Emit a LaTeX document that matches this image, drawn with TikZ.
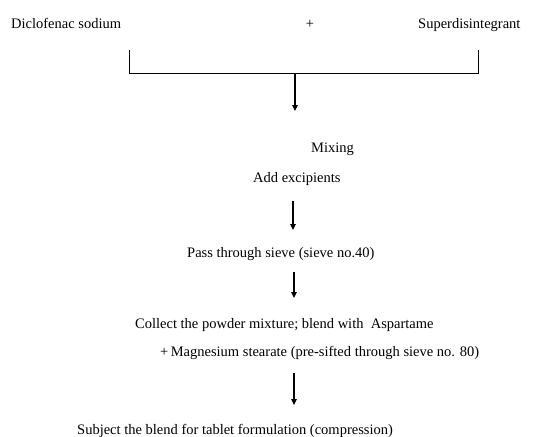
\documentclass[tikz,border=0pt]{standalone}
\usepackage{fontspec}
\setmainfont{Liberation Serif}
\usetikzlibrary{arrows.meta}
\begin{document}
\begin{tikzpicture}[x=1pt,y=-1pt,
  lbl/.style={inner sep=0pt,anchor=base west,font=\fontsize{14.5}{17}\selectfont},
  flow/.style={line width=1.6pt,-{Triangle[width=5.5pt,length=6pt]}},
  brk/.style={line width=1pt}]
\useasboundingbox (0,0) rectangle (547,437);
\node[lbl] (dic) at (11,28) {Diclofenac sodium};
\node[lbl,anchor=base] (plus) at (310,28) {+};
\node[lbl] (sup) at (418,28) {Superdisintegrant};
\node[lbl] (mix) at (311,152) {Mixing};
\node[lbl] (add) at (253,182) {Add excipients};
\node[lbl] (pass) at (187,257) {Pass through sieve (sieve no.40)};
\node[lbl] (coll) at (135,328) {Collect the powder mixture; blend with\ \ Aspartame};
\node[lbl] (mag) at (160,356) {+\,Magnesium stearate (pre-sifted through sieve no. 80)};
\node[lbl] (subj) at (77,434) {Subject the blend for tablet formulation (compression)};
\coordinate (bl1) at (129,50);
\coordinate (bl2) at (129,73);
\coordinate (br1) at (478,50);
\coordinate (br2) at (478,73);
\coordinate (a0) at (295,73);
\coordinate (a1) at (295,111);
\coordinate (b0) at (293,201);
\coordinate (b1) at (293,230);
\coordinate (c0) at (294,272);
\coordinate (c1) at (294,298);
\coordinate (d0) at (294,373);
\coordinate (d1) at (294,405);
\draw[brk] (bl1) -- (bl2) -- (br2) -- (br1);
\draw[flow] (a0) -- (a1);
\draw[flow] (b0) -- (b1);
\draw[flow] (c0) -- (c1);
\draw[flow] (d0) -- (d1);
\end{tikzpicture}
\end{document}
